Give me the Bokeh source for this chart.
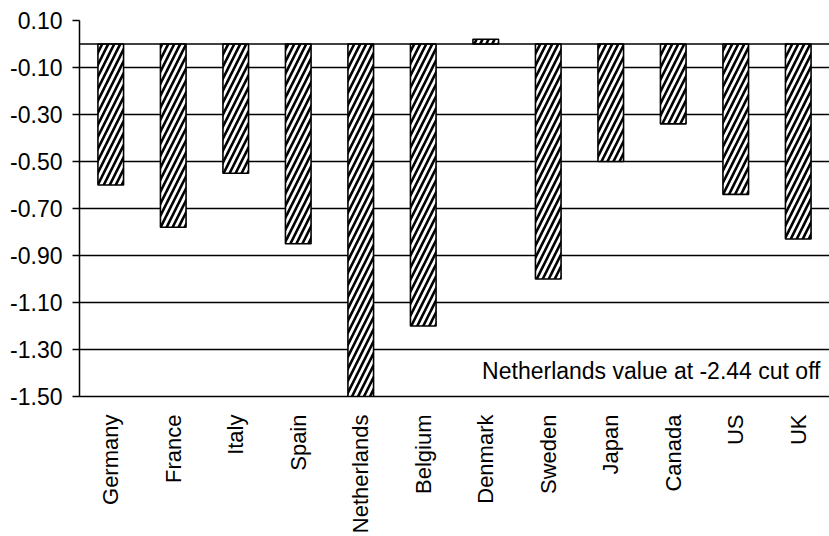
import math
from bokeh.plotting import figure
from bokeh.models import Range1d, FixedTicker, Span, Label, ColumnDataSource
from bokeh.embed import file_html
from bokeh.resources import INLINE

countries = ["Germany", "France", "Italy", "Spain", "Netherlands", "Belgium",
             "Denmark", "Sweden", "Japan", "Canada", "US", "UK"]
values = [-0.60, -0.78, -0.55, -0.85, -2.44, -1.20, 0.02, -1.00, -0.50, -0.34, -0.64, -0.83]
y_ticks = [0.10, -0.10, -0.30, -0.50, -0.70, -0.90, -1.10, -1.30, -1.50]
y_tick_labels = ["0.10", "-0.10", "-0.30", "-0.50", "-0.70", "-0.90", "-1.10", "-1.30", "-1.50"]
note = "Netherlands value at -2.44 cut off"

FONT = "Liberation Sans"

src = ColumnDataSource(dict(x=countries, top=values))

p = figure(x_range=countries, y_range=Range1d(-1.50, 0.10), width=829, height=536,
           output_backend="svg", toolbar_location=None,
           min_border_left=79, min_border_right=0, min_border_top=20, min_border_bottom=0)

p.vbar(x="x", top="top", bottom=0, width=0.41, source=src,
       fill_color="white", line_color="black", line_width=1.6,
       hatch_pattern="right_diagonal_line", hatch_color="black",
       hatch_scale=12, hatch_weight=2.6)

p.add_layout(Span(location=0, dimension="width", line_color="black", line_width=1.5))

# y axis
p.yaxis.ticker = FixedTicker(ticks=y_ticks)
p.yaxis.major_label_overrides = {t: l for t, l in zip(y_ticks, y_tick_labels)}
p.yaxis.major_label_text_font = FONT
p.yaxis.major_label_text_font_size = "23px"
p.yaxis.major_label_text_color = "black"
p.yaxis.major_tick_out = 7
p.yaxis.major_tick_in = 0
p.yaxis.minor_tick_line_color = None
p.yaxis.major_tick_line_color = "black"
p.yaxis.major_tick_line_width = 1.5
p.yaxis.axis_line_color = "black"
p.yaxis.axis_line_width = 1.5
p.yaxis.major_label_standoff = 10

# x axis
p.xaxis.major_label_orientation = math.pi / 2
p.xaxis.major_label_text_font = FONT
p.xaxis.major_label_text_font_size = "22px"
p.xaxis.major_label_text_color = "black"
p.xaxis.major_tick_line_color = None
p.xaxis.minor_tick_line_color = None
p.xaxis.axis_line_color = "black"
p.xaxis.axis_line_width = 1.5
p.xaxis.major_label_standoff = 12

p.xgrid.grid_line_color = None
p.ygrid.grid_line_color = "black"
p.ygrid.grid_line_width = 1.5
p.outline_line_color = None

p.add_layout(Label(x=len(countries), y=-1.39, x_offset=-9, text=note,
                   text_align="right", text_baseline="middle",
                   text_font=FONT, text_font_size="23px", text_color="black"))

open("out.html", "w").write(file_html(p, INLINE))
